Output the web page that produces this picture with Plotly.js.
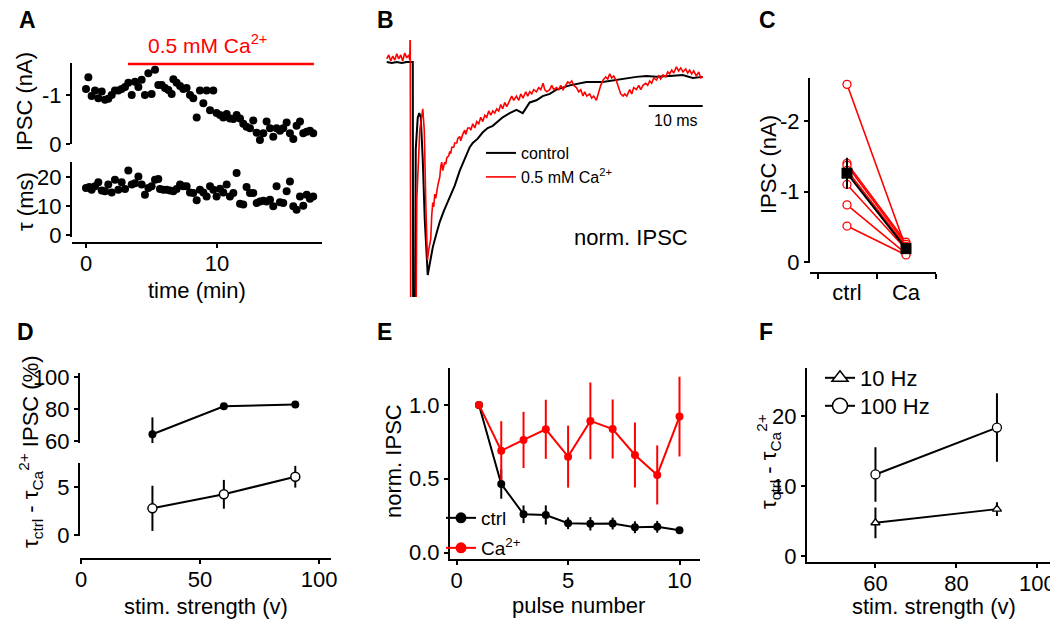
<!DOCTYPE html>
<html><head><meta charset="utf-8">
<script src="https://cdn.plot.ly/plotly-3.0.1.min.js"></script>
<style>html,body{margin:0;padding:0;background:#fff;}#chart{width:1050px;height:619px;}</style>
</head><body><div id="chart"></div>
<script>
// ---------- Panel A data ----------
const ipscTime = [0.00,0.18,0.43,0.69,0.94,1.20,1.45,1.70,1.96,2.21,2.47,2.72,2.98,3.23,3.49,3.74,4.00,4.25,4.50,4.76,5.01,5.27,5.52,5.78,6.03,6.29,6.54,6.67,6.92,7.18,7.43,7.68,7.94,8.19,8.45,8.70,8.96,9.21,9.47,9.72,9.97,10.23,10.48,10.74,10.99,11.25,11.50,11.76,12.01,12.26,12.52,12.77,13.03,13.28,13.54,13.79,14.05,14.30,14.55,14.81,15.06,15.32,15.57,15.83,16.08,16.34,16.59,16.85,17.10,17.35];
const ipscA = [-1.12,-1.36,-0.98,-1.09,-0.93,-1.07,-0.90,-0.92,-1.00,-1.09,
 -1.09,-1.12,-1.16,-1.25,-1.00,-1.27,-1.16,-1.31,-1.00,-1.44,
 -1.02,-1.51,-1.20,-1.20,-1.14,-1.10,-1.02,-1.32,-1.25,-1.18,
 -1.12,-1.14,-1.00,-0.93,-0.54,-1.09,-0.83,-1.09,-0.69,-1.09,
 -0.63,-0.59,-0.54,-0.61,-0.52,-0.51,-0.59,-0.52,-0.41,-0.35,
 -0.32,-0.48,-0.23,-0.08,-0.22,-0.46,-0.32,-0.15,-0.32,-0.27,
 -0.32,-0.44,-0.22,-0.10,-0.37,-0.46,-0.22,-0.25,-0.27,-0.22];
const tauTime = [0.00,0.25,0.43,0.69,0.94,1.20,1.45,1.70,1.96,2.21,2.47,2.72,2.98,3.23,3.49,3.74,4.00,4.25,4.50,4.76,5.01,5.27,5.52,5.65,5.90,6.16,6.41,6.67,6.92,7.18,7.43,7.68,7.94,8.19,8.45,8.70,8.96,9.21,9.47,9.72,9.97,10.23,10.48,10.74,10.99,11.25,11.50,11.76,12.01,12.26,12.52,12.77,13.03,13.28,13.54,13.79,14.05,14.30,14.55,14.81,15.06,15.32,15.57,15.83,16.08,16.34,16.59,16.85,17.10,17.35];
const tauA = [16.2,16.6,15.6,16.8,18.2,15.4,15.1,17.4,14.7,19.1,
 15.6,18.2,15.9,22.3,17.4,17.9,20.2,17.4,13.9,16.2,
 16.8,19.1,19.3,15.9,15.6,15.6,15.4,15.1,15.9,17.4,
 16.8,16.8,14.7,14.5,12.0,15.6,14.7,13.3,16.8,15.6,
 13.3,16.0,14.7,17.4,13.3,14.5,21.4,10.8,10.5,16.6,
 14.5,14.5,11.0,11.6,11.8,11.6,12.2,9.9,16.8,11.3,
 11.0,15.1,18.5,9.9,8.7,13.3,10.1,13.9,12.5,13.3];
const caWashIn = [3.2, 17.4];

// ---------- Panel B data (time ms, normalized IPSC) ----------
const ctrlT = [-4.26,-3.33,-2.41,-1.48,-0.56,0.19,0.56,0.65,0.93,1.11,1.48,1.76,2.04,2.41,2.78,3.33,3.70,4.26,5.00,5.56,6.30,7.41,8.33,9.26,10.19,11.11,11.67,12.59,13.52,14.44,15.37,16.30,17.22,18.52,19.76,20.93,22.22,23.46,24.63,25.93,27.17,29.63,32.72,35.74,38.28,40.13,41.98,43.83,45.69,48.15,50.56,52.41,54.26];
const ctrlV = [0,-0.005,0,-0.005,0,0,0,-1.5,-1.5,-0.41,-0.26,-0.24,-0.26,-0.46,-0.74,-1.00,-0.94,-0.87,-0.80,-0.75,-0.70,-0.63,-0.58,-0.51,-0.45,-0.40,-0.38,-0.36,-0.33,-0.31,-0.30,-0.28,-0.26,-0.24,-0.225,-0.24,-0.19,-0.18,-0.16,-0.15,-0.13,-0.11,-0.094,-0.094,-0.085,-0.075,-0.07,-0.066,-0.07,-0.066,-0.061,-0.075,-0.07];
const caT = [-4.26,-3.89,-3.52,-3.15,-2.78,-2.41,-2.04,-1.67,-1.30,-0.93,
 -0.56,-0.19,0,0.09,0.19,1.11,1.30,1.85,2.41,2.69,
 2.96,3.28,3.52,3.70,3.89,4.07,4.26,4.44,4.63,4.81,
 5.00,5.19,5.37,5.56,5.74,5.93,6.11,6.30,6.48,6.67,
 6.85,7.22,7.41,7.59,7.78,8.15,8.33,8.70,8.89,9.26,
 9.44,9.81,10.19,10.37,10.74,11.11,11.30,11.67,12.04,12.41,
 12.78,13.15,13.52,13.89,14.26,14.63,15.00,15.37,15.74,16.11,
 16.48,16.85,17.22,17.59,17.96,18.52,18.89,19.26,19.76,20.19,
 20.56,20.98,21.48,21.85,22.22,22.59,22.96,23.46,23.89,24.26,
 24.69,25.00,25.37,25.93,26.30,26.67,27.17,27.59,27.96,28.39,
 28.89,29.26,29.63,30.00,30.37,30.87,31.30,31.67,32.09,32.41,
 32.78,33.33,33.70,34.07,34.57,35.00,35.37,35.80,36.30,36.67,
 37.04,37.41,37.78,38.28,38.70,39.07,39.50,39.81,40.19,40.74,
 41.11,41.48,41.98,42.41,42.78,43.20,43.70,44.07,44.44,44.81,
 45.19,45.69,46.11,46.48,46.91,47.41,47.78,48.15,48.52,48.89,
 49.39,49.81,50.19,50.61,51.11,51.48,51.85,52.22,52.59,53.09,
 53.52,53.89,54.31];
const caV = [0.014,0.033,0.005,0.028,0.009,0.038,0.014,0.033,0.005,0.042,
 0.019,0.033,0.009,0.15,-1.5,-1.5,-0.65,-0.32,-0.22,-0.32,
 -0.65,-0.93,-0.88,-0.85,-0.83,-0.72,-0.66,-0.68,-0.62,-0.64,
 -0.60,-0.58,-0.56,-0.54,-0.49,-0.47,-0.51,-0.49,-0.47,-0.48,
 -0.45,-0.44,-0.42,-0.43,-0.40,-0.40,-0.38,-0.38,-0.36,-0.35,
 -0.37,-0.34,-0.32,-0.34,-0.31,-0.31,-0.32,-0.29,-0.31,-0.28,
 -0.29,-0.26,-0.28,-0.25,-0.26,-0.23,-0.25,-0.23,-0.24,-0.22,
 -0.23,-0.20,-0.22,-0.19,-0.21,-0.18,-0.16,-0.18,-0.16,-0.18,
 -0.15,-0.17,-0.14,-0.16,-0.14,-0.15,-0.13,-0.14,-0.12,-0.13,
 -0.10,-0.13,-0.14,-0.13,-0.11,-0.13,-0.12,-0.13,-0.11,-0.13,
 -0.11,-0.094,-0.10,-0.089,-0.11,-0.12,-0.14,-0.13,-0.16,-0.14,
 -0.16,-0.15,-0.17,-0.16,-0.18,-0.14,-0.11,-0.085,-0.07,-0.08,
 -0.056,-0.075,-0.066,-0.089,-0.12,-0.15,-0.16,-0.15,-0.16,-0.13,
 -0.15,-0.12,-0.13,-0.11,-0.13,-0.11,-0.10,-0.11,-0.089,-0.10,
 -0.075,-0.085,-0.066,-0.08,-0.061,-0.07,-0.047,-0.056,-0.038,-0.052,
 -0.023,-0.042,-0.028,-0.047,-0.033,-0.052,-0.038,-0.056,-0.042,-0.066,
 -0.047,-0.075,-0.07];
const scaleBarMs = [44.26, 54.26];
const scaleBarY = -0.207;

// ---------- Panel C data ----------
const cCategories = ['ctrl', 'Ca'];
const cCtrl = [-2.52, -1.40, -1.37, -1.30, -1.10, -0.81, -0.51];
const cCa   = [-0.20, -0.28, -0.25, -0.22, -0.18, -0.12, -0.10];
const cMean = [-1.26, -0.19];
const cMeanErr = [0.22, 0.03];

// ---------- Panel D data ----------
const dStim = [30, 60, 90];
const dIpsc = [64.2, 81.8, 82.9];
const dIpscErr = [10.6, 1.5, 1.0];
const dTau = [2.78, 4.24, 6.07];
const dTauErr = [2.35, 1.5, 1.13];

// ---------- Panel E data ----------
const ePulse = [1,2,3,4,5,6,7,8,9,10];
const eCtrl = [1.00,0.465,0.26,0.255,0.199,0.195,0.197,0.172,0.175,0.152];
const eCtrlErr = [0,0.1,0.06,0.065,0.04,0.045,0.04,0.04,0.04,0.015];
const eCa = [1.00,0.69,0.763,0.835,0.65,0.892,0.837,0.661,0.526,0.921];
const eCaErr = [0,0.2,0.19,0.2,0.21,0.26,0.2,0.22,0.2,0.27];

// ---------- Panel F data ----------
const fStim = [60, 90];
const f10 = [4.76, 6.71];
const f10Err = [2.2, 1.0];
const f100 = [11.67, 18.38];
const f100Err = [3.9, 4.9];

// ---------- layout helpers ----------
const W = 1050, H = 619;
const FONT = 'Liberation Sans, Arial, Helvetica, sans-serif';
const xd = (a, b) => [a / W, b / W];
const yd = (top, bottom) => [1 - bottom / H, 1 - top / H];
const xp = px => px / W;
const yp = py => 1 - py / H;
function ax(o) {
  return Object.assign({
    showgrid: false, zeroline: false, showline: true, linecolor: 'black', linewidth: 2,
    ticks: 'outside', ticklen: 4, tickwidth: 2, tickcolor: 'black', ticklabeloverflow: 'allow',
    tickfont: {family: FONT, size: 22, color: 'black'}, tickmode: 'array', fixedrange: true
  }, o);
}
const RED = '#ff0000';

const traces = [];
// A
traces.push({x: ipscTime, y: ipscA, xaxis: 'x', yaxis: 'y', mode: 'markers', type: 'scatter',
  marker: {color: 'black', size: 8}, cliponaxis: false, showlegend: false});
traces.push({x: tauTime, y: tauA, xaxis: 'x', yaxis: 'y2', mode: 'markers', type: 'scatter',
  marker: {color: 'black', size: 8}, cliponaxis: false, showlegend: false});
// B
traces.push({x: ctrlT, y: ctrlV, xaxis: 'x2', yaxis: 'y3', mode: 'lines', type: 'scatter',
  line: {color: 'black', width: 2}, name: 'control', legend: 'legend'});
traces.push({x: caT, y: caV, xaxis: 'x2', yaxis: 'y3', mode: 'lines', type: 'scatter',
  line: {color: RED, width: 1.6}, name: '0.5 mM Ca<sup>2+</sup>', legend: 'legend2'});
// C
for (let i = 0; i < cCtrl.length; i++) {
  traces.push({x: [1, 2], y: [cCtrl[i], cCa[i]], xaxis: 'x3', yaxis: 'y4', mode: 'lines+markers', type: 'scatter',
    line: {color: RED, width: 1.6}, marker: {symbol: 'circle', color: 'white', size: 8, line: {color: RED, width: 1.3}},
    cliponaxis: false, showlegend: false});
}
traces.push({x: [1, 2], y: cMean, xaxis: 'x3', yaxis: 'y4', mode: 'lines+markers', type: 'scatter',
  line: {color: 'black', width: 2}, marker: {symbol: 'square', color: 'black', size: 11},
  error_y: {type: 'data', array: cMeanErr, color: 'black', thickness: 2, width: 0},
  cliponaxis: false, showlegend: false});
// D
traces.push({x: dStim, y: dIpsc, xaxis: 'x4', yaxis: 'y5', mode: 'lines+markers', type: 'scatter',
  line: {color: 'black', width: 2}, marker: {color: 'black', size: 8},
  error_y: {type: 'data', array: dIpscErr, color: 'black', thickness: 2, width: 0},
  cliponaxis: false, showlegend: false});
traces.push({x: dStim, y: dTau, xaxis: 'x4', yaxis: 'y6', mode: 'lines+markers', type: 'scatter',
  line: {color: 'black', width: 2}, marker: {color: 'white', size: 9, line: {color: 'black', width: 1.5}},
  error_y: {type: 'data', array: dTauErr, color: 'black', thickness: 2, width: 0},
  cliponaxis: false, showlegend: false});
// E
traces.push({x: ePulse, y: eCtrl, xaxis: 'x5', yaxis: 'y7', mode: 'lines+markers', type: 'scatter',
  line: {color: 'black', width: 2}, marker: {color: 'black', size: 8},
  error_y: {type: 'data', array: eCtrlErr, color: 'black', thickness: 2, width: 0},
  cliponaxis: false, showlegend: false});
traces.push({x: ePulse, y: eCa, xaxis: 'x5', yaxis: 'y7', mode: 'lines+markers', type: 'scatter',
  line: {color: RED, width: 2}, marker: {color: RED, size: 8},
  error_y: {type: 'data', array: eCaErr, color: RED, thickness: 2, width: 0},
  cliponaxis: false, showlegend: false});
// E legend keys (no plotted data, legend symbols only)
traces.push({x: [null], y: [null], xaxis: 'x5', yaxis: 'y7', mode: 'lines+markers', type: 'scatter',
  line: {color: 'black', width: 2}, marker: {color: 'black', size: 11}, name: 'ctrl', legend: 'legend3', showlegend: true});
traces.push({x: [null], y: [null], xaxis: 'x5', yaxis: 'y7', mode: 'lines+markers', type: 'scatter',
  line: {color: RED, width: 2}, marker: {color: RED, size: 11}, name: 'Ca<sup>2+</sup>', legend: 'legend4', showlegend: true});
// F
traces.push({x: fStim, y: f10, xaxis: 'x6', yaxis: 'y8', mode: 'lines+markers', type: 'scatter',
  line: {color: 'black', width: 2}, marker: {symbol: 'triangle-up', color: 'white', size: 8, line: {color: 'black', width: 1.3}},
  error_y: {type: 'data', array: f10Err, color: 'black', thickness: 2, width: 0},
  cliponaxis: false, showlegend: false});
traces.push({x: fStim, y: f100, xaxis: 'x6', yaxis: 'y8', mode: 'lines+markers', type: 'scatter',
  line: {color: 'black', width: 2}, marker: {symbol: 'circle', color: 'white', size: 9, line: {color: 'black', width: 1.3}},
  error_y: {type: 'data', array: f100Err, color: 'black', thickness: 2, width: 0},
  cliponaxis: false, showlegend: false});
// F legend keys (no plotted data, legend symbols only)
traces.push({x: [null], y: [null], xaxis: 'x6', yaxis: 'y8', mode: 'lines+markers', type: 'scatter',
  line: {color: 'black', width: 2}, marker: {symbol: 'triangle-up', color: 'white', size: 14, line: {color: 'black', width: 1.5}},
  name: '10 Hz', legend: 'legend5', showlegend: true});
traces.push({x: [null], y: [null], xaxis: 'x6', yaxis: 'y8', mode: 'lines+markers', type: 'scatter',
  line: {color: 'black', width: 2}, marker: {symbol: 'circle', color: 'white', size: 15, line: {color: 'black', width: 1.5}},
  name: '100 Hz', legend: 'legend6', showlegend: true});

function ann(text, px, py, size, extra) {
  return Object.assign({text: text, x: xp(px), y: yp(py), xref: 'paper', yref: 'paper', showarrow: false,
    xanchor: 'center', yanchor: 'middle', font: {family: FONT, size: size, color: 'black'}}, extra || {});
}

const annotations = [
  ann('<b>A</b>', 27, 20, 23), ann('<b>B</b>', 385, 20, 23), ann('<b>C</b>', 767, 20, 23),
  ann('<b>D</b>', 25, 332, 23), ann('<b>E</b>', 384, 332, 23), ann('<b>F</b>', 766, 332, 23),
  ann('0.5 mM Ca<sup>2+</sup>', 207, 44, 21, {font: {family: FONT, size: 21, color: RED}}),
  ann('time (min)', 197, 290, 22),
  ann('IPSC (nA)', 25, 102, 22, {textangle: -90}),
  ann('τ (ms)', 25, 202, 22, {textangle: -90}),
  ann('norm. IPSC', 631, 237, 22),
  ann('10 ms', 676, 120, 16),
  ann('IPSC (nA)', 768, 165, 22, {textangle: -90}),
  ann('τ<sub>ctrl</sub> - τ<sub>Ca</sub><sup>2+</sup> IPSC (%)', 30, 452, 22, {textangle: -90}),
  ann('stim. strength (v)', 206, 606, 22),
  ann('norm. IPSC', 393, 461, 22, {textangle: -90}),
  ann('pulse number', 578, 605, 22),
  ann('τ<sub>ctrl</sub> - τ<sub>Ca</sub><sup>2+</sup>', 768, 462, 22, {textangle: -90}),
  ann('stim. strength (v)', 934, 606, 22)
];

const shapes = [
  {type: 'line', xref: 'x', yref: 'paper', x0: caWashIn[0], x1: caWashIn[1], y0: yp(64), y1: yp(64),
   line: {color: RED, width: 2.5}},
  {type: 'line', xref: 'x2', yref: 'y3', x0: scaleBarMs[0], x1: scaleBarMs[1], y0: scaleBarY, y1: scaleBarY,
   line: {color: 'black', width: 2}}
];

function leg(px, pyTop, size) {
  return {bgcolor: 'rgba(0,0,0,0)', borderwidth: 0, xanchor: 'left', yanchor: 'top',
    tracegroupgap: 0, itemclick: false, itemdoubleclick: false,
    x: xp(px), y: yp(pyTop), font: {family: FONT, size: size, color: 'black'}};
}

const xTickUp = {ticklabelstandoff: -3};

const layout = {
  width: W, height: H, margin: {l: 0, r: 0, t: 0, b: 0}, paper_bgcolor: 'white', plot_bgcolor: 'rgba(0,0,0,0)',
  font: {family: FONT, color: 'black'},
  showlegend: true,
  // A
  xaxis: ax(Object.assign({domain: xd(72, 322), range: [-1.07, 18.02], anchor: 'free', position: yp(243), tickvals: [0, 10]}, xTickUp)),
  yaxis: ax({domain: yd(63, 144), range: [0, -1.65], anchor: 'x', tickvals: [0, -1], ticktext: ['0', '-1']}),
  yaxis2: ax({domain: yd(162, 237), range: [-0.7, 25.2], anchor: 'x', tickvals: [0, 10, 20]}),
  // B
  xaxis2: {domain: xd(386, 704), range: [-4.4, 54.5], visible: false, anchor: 'y3', fixedrange: true},
  yaxis3: {domain: yd(40, 297), range: [-1.103, 0.103], visible: false, anchor: 'x2', fixedrange: true},
  // C
  xaxis3: ax({domain: xd(810, 936), range: [0.373, 2.508], anchor: 'free', position: yp(273),
    tickvals: [1, 2], ticktext: cCategories, ticks: '',
    minor: {tickmode: 'array', tickvals: [0.5, 1.5, 2.5], ticks: 'outside', ticklen: 5, tickwidth: 2, tickcolor: 'black'}}),
  yaxis4: ax({domain: yd(78, 263), range: [0.014, -2.61], anchor: 'x3', tickvals: [0, -1, -2], ticktext: ['0', '-1', '-2']}),
  // D
  xaxis4: ax(Object.assign({domain: xd(80, 331), range: [-0.42, 105.0], anchor: 'free', position: yp(559), tickvals: [0, 50, 100]}, xTickUp)),
  yaxis5: ax({domain: yd(373, 443), range: [58.7, 102.7], anchor: 'x4', tickvals: [60, 80, 100]}),
  yaxis6: ax({domain: yd(463, 536), range: [-0.1, 7.5], anchor: 'x4', tickvals: [0, 5]}),
  // E
  xaxis5: ax(Object.assign({domain: xd(450, 700), range: [-0.30, 10.92], anchor: 'y7', tickvals: [0, 5, 10]}, xTickUp)),
  yaxis7: ax({domain: yd(368, 559), range: [-0.043, 1.25], anchor: 'x5', tickvals: [0, 0.5, 1], ticktext: ['0.0', '0.5', '1.0']}),
  // F
  xaxis6: ax(Object.assign({domain: xd(807, 1050), range: [43.1, 103.1], anchor: 'y8', tickvals: [60, 80, 100]}, xTickUp)),
  yaxis8: ax({domain: yd(368, 561.7), range: [-0.81, 26.9], anchor: 'x6', tickvals: [0, 10, 20]}),
  legend: leg(481, 136, 16),
  legend2: leg(481, 160, 16),
  legend3: leg(441, 499, 19),
  legend4: leg(441, 529, 19),
  legend5: leg(820, 357, 22),
  legend6: leg(820, 385, 22),
  annotations: annotations,
  shapes: shapes
};

Plotly.newPlot('chart', traces, layout, {staticPlot: true, displayModeBar: false});
</script>
</body></html>
